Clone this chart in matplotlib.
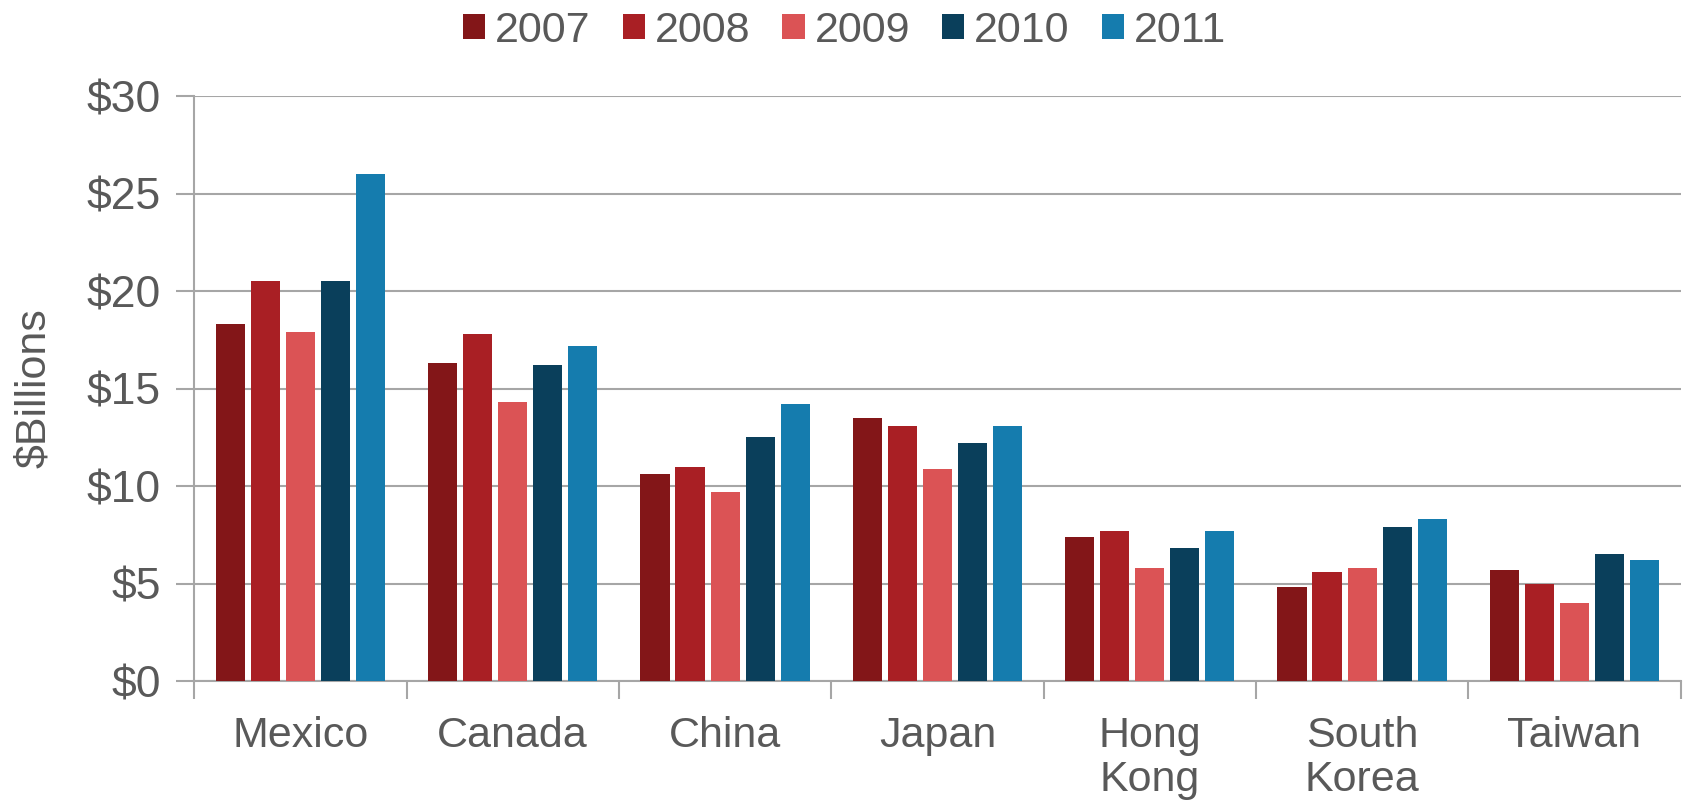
#!/usr/bin/env python3
import numpy as np
import matplotlib.pyplot as plt

# -----------------------------
# Data
# -----------------------------
countries = ["Mexico", "Canada", "China", "Japan", "Hong\nKong", "South\nKorea", "Taiwan"]
years = ["2007", "2008", "2009", "2010", "2011"]
v2007 = [18.3, 16.3, 10.6, 13.5, 7.4, 4.8, 5.7]
v2008 = [20.5, 17.8, 11.0, 13.1, 7.7, 5.6, 5.0]
v2009 = [17.9, 14.3, 9.7, 10.9, 5.8, 5.8, 4.0]
v2010 = [20.5, 16.2, 12.5, 12.2, 6.8, 7.9, 6.5]
v2011 = [26.0, 17.2, 14.2, 13.1, 7.7, 8.3, 6.2]
yticks = [0, 5, 10, 15, 20, 25, 30]

colors = ["#831618", "#A91F24", "#DB5355", "#0A3F5B", "#157CAE"]
text_col = "#595959"
grid_col = "#A6A6A6"
fsize = 31

plt.rcParams["font.family"] = ["Liberation Sans", "DejaVu Sans"]

fig = plt.figure(figsize=(16.89, 8.07), dpi=100)
ax = fig.add_axes([0.115, 0.156, 0.88, 0.725])

series = [v2007, v2008, v2009, v2010, v2011]
x = np.arange(len(countries))
pitch = 0.165
width = 0.137
for i, (vals, yr) in enumerate(zip(series, years)):
    ax.bar(x + (i - 2) * pitch, vals, width, color=colors[i], label=yr, zorder=3)

ax.set_xlim(-0.5, len(countries) - 0.5)
ax.set_ylim(0, 30)
ax.set_yticks(yticks)
ax.set_yticklabels([f"${t}" for t in yticks])
ax.set_xticks(x)
ax.set_xticklabels(countries, linespacing=1.15)
# ticks at the category boundaries
ax.set_xticks(np.arange(-0.5, len(countries)), minor=True)
ax.tick_params(axis="x", which="major", length=0, pad=25, labelsize=fsize, labelcolor=text_col)
ax.tick_params(axis="x", which="minor", length=13, width=1.5, color=grid_col)
ax.tick_params(axis="y", length=13, width=1.5, color=grid_col, pad=11,
               labelsize=fsize + 1, labelcolor=text_col)

ax.yaxis.grid(True, color=grid_col, linewidth=1.5, zorder=0)
for s in ["top", "right"]:
    ax.spines[s].set_visible(False)
for s in ["left", "bottom"]:
    ax.spines[s].set_color(grid_col)
    ax.spines[s].set_linewidth(1.5)

ax.set_ylabel("$Billions", fontsize=fsize, color=text_col)
ax.yaxis.set_label_coords(-0.094, 0.5)

fig.legend(loc="center", bbox_to_anchor=(0.5, 0.962), ncol=5, frameon=False,
           fontsize=fsize, labelcolor=text_col, handlelength=0.52, handleheight=0.52,
           handletextpad=0.23, columnspacing=0.74)

plt.savefig("out.png", dpi=100)
plt.close()
